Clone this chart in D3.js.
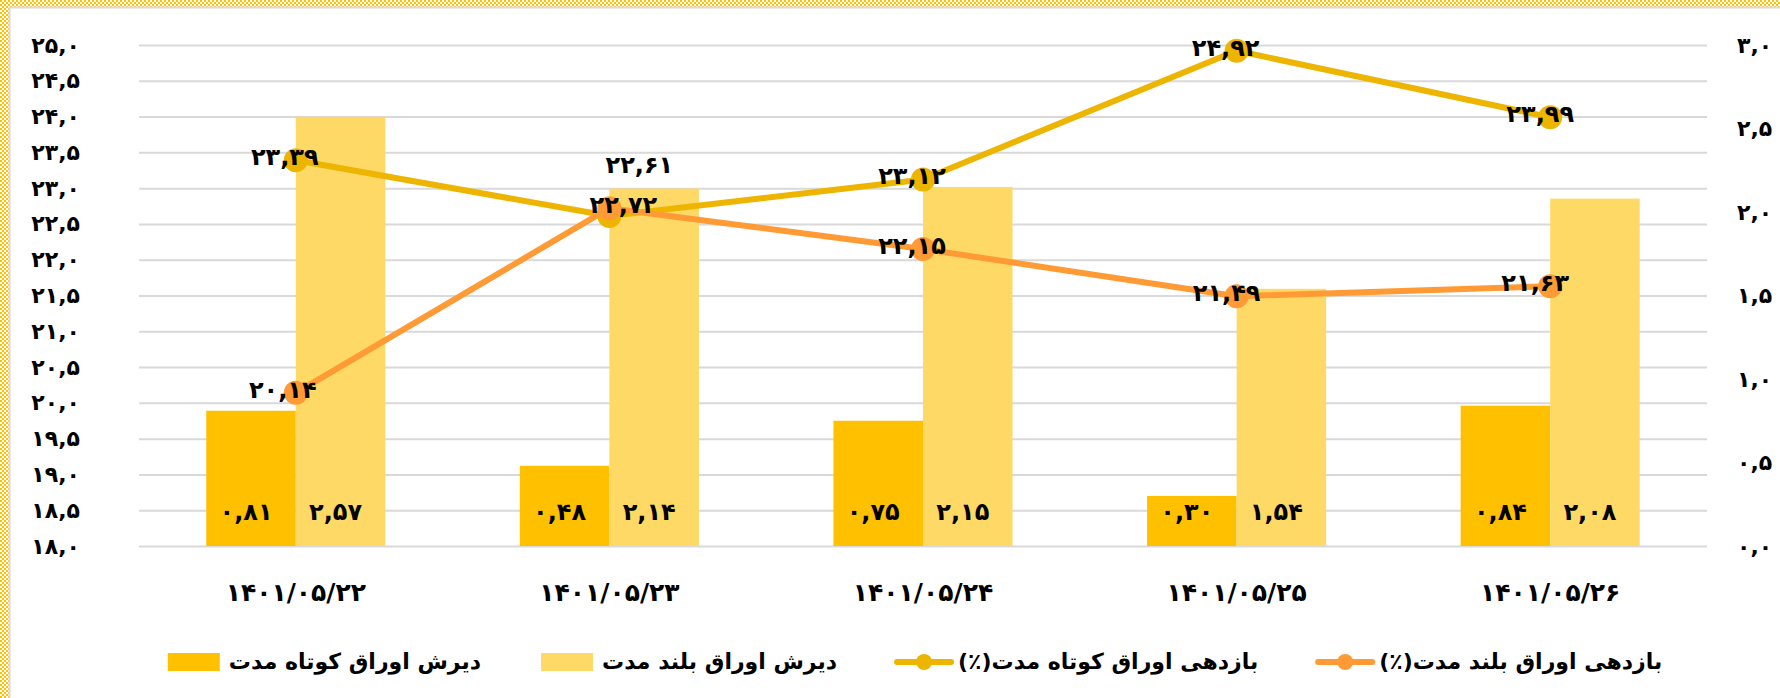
<!DOCTYPE html>
<html>
<head>
<meta charset="utf-8">
<script src="https://cdn.jsdelivr.net/npm/d3@7"></script>
<style>
  body { margin: 0; background: #fff; }
  text { font-family: "DejaVu Sans", sans-serif; font-weight: bold; fill: #000; }
</style>
</head>
<body>
<svg id="chart" width="1780" height="698"></svg>
<script>
// data
var dates = ["1401/05/22", "1401/05/23", "1401/05/24", "1401/05/25", "1401/05/26"];
var shortDuration = [0.81, 0.48, 0.75, 0.30, 0.84];   // bars, right axis
var longDuration = [2.57, 2.14, 2.15, 1.54, 2.08];    // bars, right axis
var shortYield = [23.39, 22.61, 23.12, 24.92, 23.99]; // line, left axis
var longYield = [20.14, 22.72, 22.15, 21.49, 21.63];  // line, left axis
var leftTicks = [18, 18.5, 19, 19.5, 20, 20.5, 21, 21.5, 22, 22.5, 23, 23.5, 24, 24.5, 25];
var rightTicks = [0, 0.5, 1, 1.5, 2, 2.5, 3];
var seriesNames = ["دیرش اوراق کوتاه مدت", "دیرش اوراق بلند مدت",
                   "بازدهی اوراق کوتاه مدت(٪)", "بازدهی اوراق بلند مدت(٪)"];

var colors = ["#FFC000", "#FFD966", "#EDB500", "#FF9A35"];

var svg = d3.select("#chart");
var W = 1780, H = 698;
var plot = {left: 139, right: 1707, top: 45, bottom: 546};

// persian digits, comma as decimal mark
function fa(s) {
  return String(s).replace(/[0-9]/g, function(d) { return "۰۱۲۳۴۵۶۷۸۹"[+d]; }).replace(".", ",");
}
var f1 = d3.format(".1f"), f2 = d3.format(".2f");

// frame: dotted yellow band top + left, thin grey border
var defs = svg.append("defs");
var pat = defs.append("pattern").attr("id", "dots")
    .attr("width", 4).attr("height", 4).attr("patternUnits", "userSpaceOnUse");
pat.append("rect").attr("x", 0).attr("y", 0).attr("width", 2).attr("height", 2).attr("fill", "#FFC000");
pat.append("rect").attr("x", 2).attr("y", 2).attr("width", 2).attr("height", 2).attr("fill", "#FFC000");
svg.append("rect").attr("x", 0).attr("y", 0).attr("width", W).attr("height", 7).attr("fill", "url(#dots)");
svg.append("rect").attr("x", 0).attr("y", 0).attr("width", 9).attr("height", H).attr("fill", "url(#dots)");
svg.append("path").attr("d", "M9.5," + H + "V7.5H" + W)
    .attr("fill", "none").attr("stroke", "#d9d9d9").attr("stroke-width", 2);

var x = d3.scaleBand().domain(dates).range([plot.left, plot.right])
    .paddingInner(0.429).paddingOuter(0.2145);
var xs = d3.scaleBand().domain([0, 1]).range([0, x.bandwidth()]);
var yL = d3.scaleLinear().domain([18, 25]).range([plot.bottom, plot.top]);
var yR = d3.scaleLinear().domain([0, 3]).range([plot.bottom, plot.top]);

// left axis + gridlines
var gl = svg.append("g").attr("transform", "translate(" + plot.left + ",0)")
    .call(d3.axisLeft(yL).tickValues(leftTicks).tickSize(-(plot.right - plot.left))
      .tickPadding(59).tickFormat(function(d) { return fa(f1(d)); }));
gl.select(".domain").remove();
gl.selectAll(".tick line").attr("stroke", "#d9d9d9").attr("stroke-width", 2);
gl.selectAll(".tick text").style("font-size", "22px").attr("fill", "#000");

// right axis
var gr = svg.append("g").attr("transform", "translate(" + plot.right + ",0)")
    .call(d3.axisRight(yR).tickValues(rightTicks).tickSize(0).tickPadding(30)
      .tickFormat(function(d) { return fa(f1(d)); }));
gr.select(".domain").remove();
gr.selectAll(".tick text").style("font-size", "22px").attr("fill", "#000");

// x axis
var gx = svg.append("g").attr("transform", "translate(0," + plot.bottom + ")")
    .call(d3.axisBottom(x).tickSize(0).tickPadding(37).tickFormat(fa));
gx.select(".domain").remove();
gx.selectAll(".tick text").style("font-size", "25px").style("letter-spacing", "1.5px").attr("fill", "#000");

// bars
var barSeries = [shortDuration, longDuration];
barSeries.forEach(function(vals, si) {
  var g = svg.append("g");
  g.selectAll("rect").data(vals).enter().append("rect")
    .attr("x", function(d, i) { return x(dates[i]) + xs(si); })
    .attr("width", xs.bandwidth())
    .attr("y", function(d) { return yR(d); })
    .attr("height", function(d) { return yR(0) - yR(d); })
    .attr("fill", colors[si]);
  g.selectAll("text").data(vals).enter().append("text")
    .attr("x", function(d, i) { return x(dates[i]) + xs(si) + xs.bandwidth() / 2 - 5; })
    .attr("y", yR(0) - 34)
    .attr("dy", "0.35em")
    .attr("text-anchor", "middle")
    .style("font-size", "24px")
    .text(function(d) { return fa(f2(d)); });
});

// lines
var cx = function(d, i) { return x(dates[i]) + x.bandwidth() / 2; };
var lineSeries = [shortYield, longYield];
// label nudges (dx, dy) per series/point
var labelShift = [
  [[-11, 0], [30, -48], [-11, 0], [-11, 0], [-10, 0]],
  [[-13, 0], [14, 0], [-11, 0], [-10, 0], [-15, 0]]
];
lineSeries.forEach(function(vals, si) {
  var c = colors[si + 2];
  var line = d3.line().x(cx).y(function(d) { return yL(d); });
  var g = svg.append("g");
  g.append("path").datum(vals).attr("d", line)
    .attr("fill", "none").attr("stroke", c).attr("stroke-width", 6).attr("stroke-linejoin", "round");
  g.selectAll("circle").data(vals).enter().append("circle")
    .attr("cx", cx).attr("cy", function(d) { return yL(d); })
    .attr("r", 12).attr("fill", c);
  g.selectAll("text").data(vals).enter().append("text")
    .attr("x", function(d, i) { return cx(d, i) + labelShift[si][i][0]; })
    .attr("y", function(d, i) { return yL(d) + labelShift[si][i][1]; })
    .attr("dy", "0.2em")
    .attr("text-anchor", "middle")
    .style("font-size", "24px")
    .text(function(d) { return fa(f2(d)); });
});

// legend
var legY = 662;
var leg = svg.append("g");
var items = seriesNames.map(function(name, i) {
  var g = leg.append("g");
  if (i < 2) {
    g.append("rect").attr("x", 0).attr("y", legY - 9).attr("width", 52).attr("height", 18).attr("fill", colors[i]);
  } else {
    g.append("line").attr("x1", 0).attr("x2", 54).attr("y1", legY).attr("y2", legY)
      .attr("stroke", colors[i]).attr("stroke-width", 6).attr("stroke-linecap", "round");
    g.append("circle").attr("cx", 27).attr("cy", legY).attr("r", 8).attr("fill", colors[i]);
  }
  var t = g.append("text").attr("x", 61).attr("y", legY).attr("dy", "0.3em")
    .style("direction", "rtl").style("unicode-bidi", "embed")
    .attr("text-anchor", "end")
    .style("font-size", "22px")
    .text(name);
  var w = t.node().getComputedTextLength();
  return {g: g, w: 61 + w};
});
var gap = 60;
var total = d3.sum(items, function(d) { return d.w; }) + gap * (items.length - 1);
var pos = 915 - total / 2;
items.forEach(function(it) {
  it.g.attr("transform", "translate(" + pos + ",0)");
  pos += it.w + gap;
});
</script>
</body>
</html>
